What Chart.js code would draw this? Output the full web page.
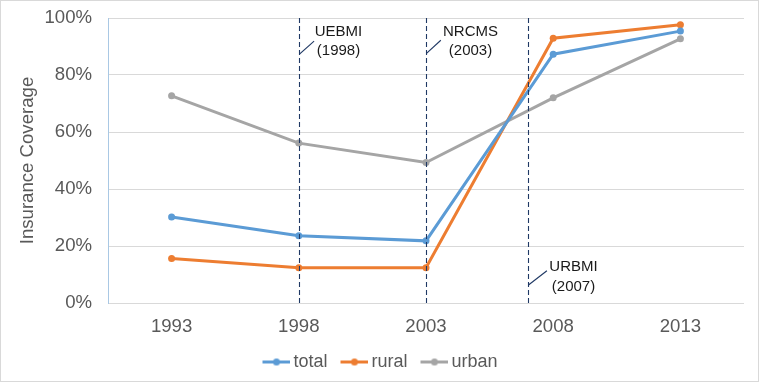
<!DOCTYPE html>
<html>
<head>
<meta charset="utf-8">
<script src="https://cdn.jsdelivr.net/npm/chart.js@4.4.1/dist/chart.umd.min.js"></script>
<style>
  html, body { margin: 0; padding: 0; background: #fff; }
  #wrap { width: 759px; height: 382px; box-sizing: border-box; border: 1px solid #d9d9d9; }
  #box { width: 757px; height: 380px; position: relative; }
</style>
</head>
<body>
<div id="wrap"><div id="box"><canvas id="chart"></canvas></div></div>
<script>
// survey years and coverage shares
var years = ["1993", "1998", "2003", "2008", "2013"];
var total = [0.302, 0.236, 0.218, 0.873, 0.954];
var rural = [0.156, 0.124, 0.124, 0.929, 0.976];
var urban = [0.727, 0.561, 0.493, 0.720, 0.927];
var yTicks = [0, 0.2, 0.4, 0.6, 0.8, 1];

// policy launches marked with dashed lines
var policyNames = ["UEBMI", "NRCMS", "URBMI"];
var policyYears = [1998, 2003, 2007];

var FONT = "'Liberation Sans', Arial, sans-serif";
var colors = { total: "#5B9BD5", rural: "#ED7D31", urban: "#A5A5A5" };

// little line+dot picture for the legend (line sits at the right of the image)
function legendMark(color) {
    var c = document.createElement("canvas");
    c.width = 37;
    c.height = 9;
    var g = c.getContext("2d");
    g.strokeStyle = color;
    g.lineWidth = 3;
    g.beginPath();
    g.moveTo(9, 4.5);
    g.lineTo(37, 4.5);
    g.stroke();
    g.fillStyle = color;
    g.beginPath();
    g.arc(23, 4.5, 3.5, 0, Math.PI * 2);
    g.fill();
    return c;
}

// where each label sits: dx from the dashed line, y in axis units
var labelPlace = [
    { dx: 39, y1: 0.951, y2: 0.884, lead: [0, 0.873, 14.6, 0.919] },
    { dx: 44, y1: 0.951, y2: 0.884, lead: [0, 0.876, 14.3, 0.922] },
    { dx: 45, y1: 0.127, y2: 0.057, lead: [0, 0.063, 18.4, 0.113] }
];

var policyPlugin = {
    id: "policies",
    afterDatasetsDraw: function(chart) {
        var ctx = chart.ctx;
        var xs = chart.scales.x, ys = chart.scales.y;
        var top = chart.chartArea.top, bottom = chart.chartArea.bottom;
        ctx.save();
        for (var i = 0; i < policyYears.length; i++) {
            var idx = (policyYears[i] - Number(years[0])) / 5;
            var x = Math.round(xs.getPixelForValue(idx)) + 0.5;
            ctx.strokeStyle = "#1F3864";
            ctx.lineWidth = 1.1;
            ctx.setLineDash([5, 3]);
            ctx.beginPath();
            ctx.moveTo(x, top);
            ctx.lineTo(x, bottom);
            ctx.stroke();
            ctx.setLineDash([]);
            var p = labelPlace[i];
            ctx.beginPath();
            ctx.moveTo(x + p.lead[0], ys.getPixelForValue(p.lead[1]));
            ctx.lineTo(x + p.lead[2], ys.getPixelForValue(p.lead[3]));
            ctx.stroke();
            ctx.fillStyle = "#1a1a1a";
            ctx.font = "15px " + FONT;
            ctx.textAlign = "center";
            ctx.textBaseline = "middle";
            ctx.fillText(policyNames[i], x + p.dx, ys.getPixelForValue(p.y1));
            ctx.fillText("(" + policyYears[i] + ")", x + p.dx, ys.getPixelForValue(p.y2));
        }
        ctx.restore();
    }
};

function series(label, data, color) {
    return {
        label: label,
        data: data,
        borderColor: color,
        backgroundColor: color,
        borderWidth: 3,
        pointRadius: 3.5,
        pointBorderWidth: 0,
        pointBackgroundColor: color,
        tension: 0,
        fill: false
    };
}

new Chart(document.getElementById("chart"), {
    type: "line",
    data: {
        labels: years,
        datasets: [
            series("total", total, colors.total),
            series("rural", rural, colors.rural),
            series("urban", urban, colors.urban)
        ]
    },
    options: {
        responsive: true,
        maintainAspectRatio: false,
        animation: false,
        events: [],
        layout: { padding: { top: 17, right: 14, left: 12, bottom: 0 } },
        plugins: {
            tooltip: { enabled: false },
            legend: {
                position: "bottom",
                labels: {
                    color: "#595959",
                    font: { family: FONT, size: 18 },
                    usePointStyle: true,
                    pointStyleWidth: 25,
                    padding: 10,
                    generateLabels: function(chart) {
                        var items = Chart.defaults.plugins.legend.labels.generateLabels(chart);
                        items.forEach(function(it) {
                            it.pointStyle = legendMark(chart.data.datasets[it.datasetIndex].borderColor);
                        });
                        return items;
                    }
                }
            }
        },
        scales: {
            x: {
                offset: true,
                grid: { display: false, drawTicks: false },
                border: { display: false },
                ticks: { color: "#595959", font: { family: FONT, size: 18.6 }, padding: 13 },
                afterFit: function(axis) { axis.height = 40; }
            },
            y: {
                min: 0,
                max: 1,
                afterBuildTicks: function(axis) {
                    axis.ticks = yTicks.map(function(v) { return { value: v }; });
                },
                afterFit: function(axis) {
                    axis.width = 95;
                    axis.paddingTop = 0;
                    axis.paddingBottom = 0;
                },
                grid: { color: "#D9D9D9", lineWidth: 1, drawTicks: false },
                border: { display: true, color: "#A9C8E4", width: 1 },
                ticks: {
                    color: "#595959",
                    font: { family: FONT, size: 18.6 },
                    padding: 16,
                    callback: function(v) { return Math.round(v * 100) + "%"; }
                },
                title: {
                    display: true,
                    text: "Insurance Coverage",
                    color: "#595959",
                    font: { family: FONT, size: 18.6 },
                    padding: { top: 4, bottom: 4 }
                }
            }
        }
    },
    plugins: [policyPlugin]
});
</script>
</body>
</html>
